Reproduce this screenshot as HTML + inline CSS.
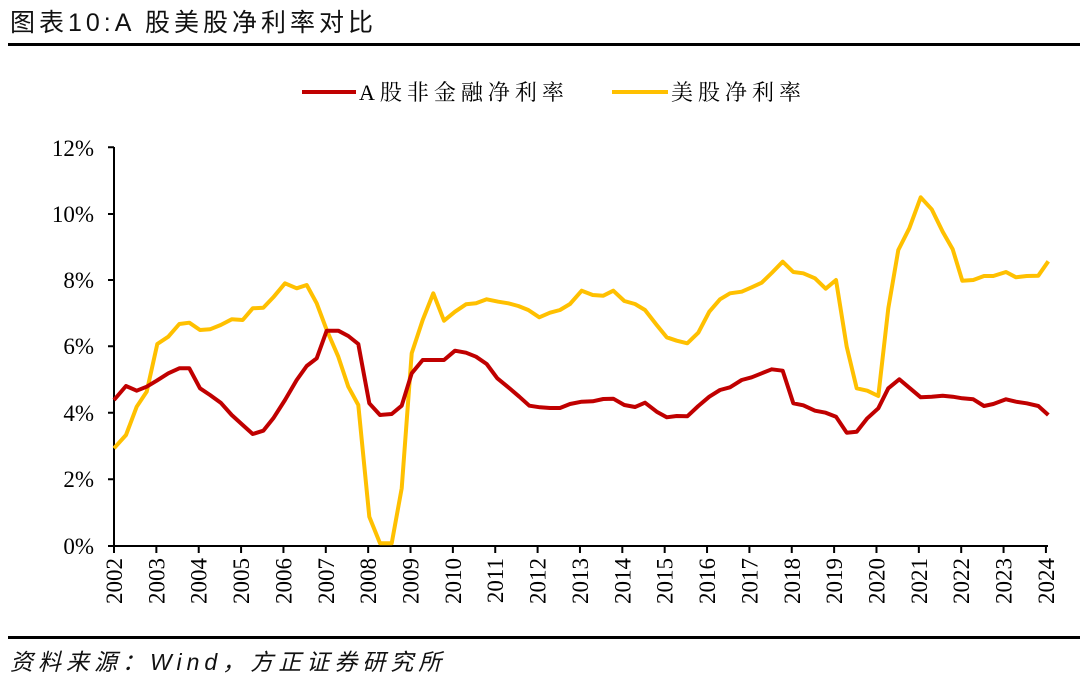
<!DOCTYPE html>
<html><head><meta charset="utf-8"><style>
body{margin:0;background:#fff;width:1080px;height:682px;overflow:hidden}
</style></head><body>
<svg width="1080" height="682" xmlns="http://www.w3.org/2000/svg">
<text x="10" y="31" font-family="'Liberation Sans','Noto Sans CJK SC',sans-serif" font-size="25" letter-spacing="4" fill="#111">图表10:A 股美股净利率对比</text>
<rect x="8" y="43" width="1072" height="3" fill="#000"/>
<rect x="8" y="636" width="1072" height="3" fill="#000"/>
<text x="10" y="670" font-family="'Liberation Sans','Noto Sans CJK SC',sans-serif" font-size="23" font-style="italic" letter-spacing="5" fill="#111">资料来源：Wind，方正证券研究所</text>
<g font-family="'Liberation Serif','Noto Serif CJK SC',serif" font-size="22" letter-spacing="5" fill="#000">
<line x1="302" y1="92" x2="356" y2="92" stroke="#C00000" stroke-width="4"/>
<text x="359" y="100">A股非金融净利率</text>
<line x1="612" y1="92" x2="668" y2="92" stroke="#FFC000" stroke-width="4"/>
<text x="671" y="100">美股净利率</text>
</g>
<g stroke="#000" stroke-width="2" fill="none">
<line x1="114" y1="147" x2="114" y2="546"/>
<line x1="113" y1="546" x2="1048" y2="546"/>
<path d="M108 147.3H114M108 214H114M108 280H114M108 346.3H114M108 412.7H114M108 479.3H114M108 546H114"/>
</g>
<g font-family="'Liberation Serif',serif" font-size="23" text-anchor="end" fill="#000">
<text x="94" y="156">12%</text><text x="94" y="222">10%</text><text x="94" y="288">8%</text>
<text x="94" y="354">6%</text><text x="94" y="421">4%</text><text x="94" y="487">2%</text><text x="94" y="554">0%</text>
</g>
<g id="xt"></g>
<polyline fill="none" stroke="#FFC000" stroke-width="4" stroke-linejoin="round" points="114,448.3 126,435 136.7,406.7 146.7,391.7 157.3,344 168.3,336.7 179.3,324 189.3,322.7 200,330 210,329.3 220.7,325 231.7,319.3 242.7,320 252.7,308.3 263.3,307.7 273.3,297.3 285,283.3 296.7,288.3 306.7,285 316.7,303.3 326.7,330 338.3,356.7 348.3,386.7 358.3,405 369.3,516.7 380,543.3 391.7,543.3 401.7,488.3 411.7,353.3 422.7,320 433.3,293.3 444,320.7 455,311.7 466,304.3 476,303.3 486.7,299.3 498.3,301.7 508.3,303.3 518.3,306 528.3,310 539.3,317.3 550,312.7 560,310 570,304 581.7,290.7 592.7,295 603.3,295.7 613.3,290.7 624.3,301 635,304 645,310 656.7,325 666.7,337.3 676.7,340.7 687.3,343.3 698.3,332.7 709.3,311.7 720,299.3 730,293.3 741.7,291.7 751.7,287.3 761.7,282.7 771.7,273 782.7,261.7 793.3,272 803.3,273.3 815,278.3 825.7,288.7 836,280 846.7,346.7 856.7,388.3 867.3,390.7 878.3,396 888.3,308.3 898.3,250 909.3,228.3 920.7,197.3 931.7,209.3 942.7,231.7 952.7,249.3 962.3,280.7 973.3,280 984,276 993.3,276 1006,272 1016,277.3 1026.7,276 1038.3,275.7 1048.3,261.3"/>
<polyline fill="none" stroke="#C00000" stroke-width="4" stroke-linejoin="round" points="114,400 126,386 136.7,390.7 146.7,386.7 156.7,380.7 168.3,373.3 179.3,368.3 189.3,368.3 200,388.3 210,395 220.7,402.7 231.7,415 242.7,425 252.7,434 263.3,430.7 273.3,418.3 285,400 296.7,380 306.7,366 316.7,358.3 326.7,330.7 338.3,330.7 348.3,336 358.3,344 369.3,403.3 380,415 391.7,414 401.7,405.7 411.7,373.3 422.7,360 433.3,360 444,360 455,350.7 466,352.7 476,356.7 486.7,364 497.3,378.3 508.3,387.3 519.3,396.7 529.3,405.7 540,407.3 550,408 560,408 570,404 581.7,401.7 592.7,401.3 603.3,399 613.3,398.7 624.3,405 635,407 645,402.7 656.7,411.7 666.7,417.3 676.7,416 687.3,416.3 698.3,406 709.3,396.7 720,390 730,387.3 741.7,380 751.7,377.3 761.7,373.3 771.7,369.3 782.7,370.7 793.3,403.3 803.3,405.3 815,410.7 825.7,412.7 836,416.7 846.7,432.7 856.7,431.7 867.3,418.3 878.3,408.3 888.3,388.3 899.3,379.3 910,388.3 920.7,397.3 931.7,396.7 942.7,395.7 952.7,396.7 962.3,398.3 973.3,399.3 984,406 993.3,404 1006,399.3 1016,401.7 1026.7,403.3 1038.3,406 1048.3,415"/>
</svg>
<script>
var g=document.getElementById('xt'),s='';
for(var i=0;i<=22;i++){var x=114+i*42.36;
s+='<line x1="'+x+'" y1="546" x2="'+x+'" y2="553" stroke="#000" stroke-width="2"/>';
s+='<text transform="translate('+(x+8)+',558) rotate(-90)" text-anchor="end" font-family="Liberation Serif,serif" font-size="23">'+(2002+i)+'</text>';}
g.innerHTML=s;
</script>
</body></html>
